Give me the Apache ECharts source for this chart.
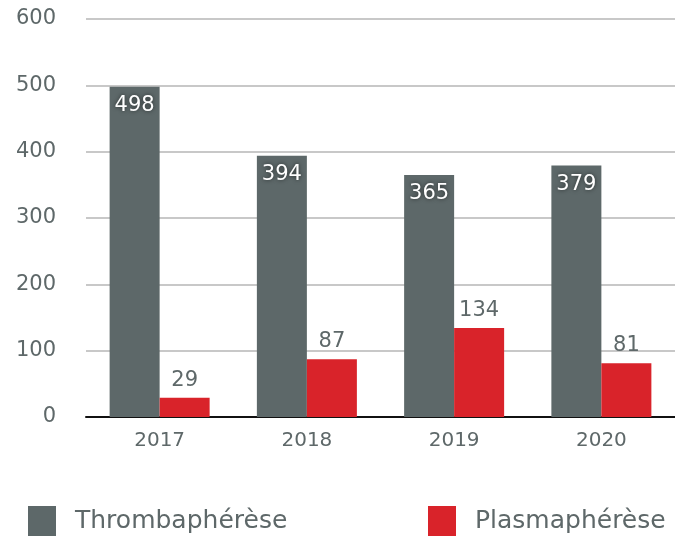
<!DOCTYPE html>
<html>
<head>
<meta charset="utf-8">
<script src="https://cdn.jsdelivr.net/npm/echarts@6/dist/echarts.min.js"></script>
<style>
  html, body { margin: 0; padding: 0; background: #fff; }
  #chart { width: 675px; height: 540px; }
</style>
</head>
<body>
<div id="chart"></div>
<script>
const years = ['2017', '2018', '2019', '2020'];
const thrombapherese = [498, 394, 365, 379];
const plasmapherese = [29, 87, 134, 81];
const yTicks = { min: 0, max: 600, interval: 100 };

const grey = '#5d6869';
const red = '#d9232a';
const textColor = '#5e6869';
const font = 'DejaVu Sans';

const chart = echarts.init(document.getElementById('chart'));

const legendText = { fontSize: 25, color: textColor, fontFamily: font, padding: [0, 0, 0, 14] };

chart.setOption({
    animation: false,
    textStyle: { fontFamily: font },
    grid: { left: 86, right: 0, top: 19, bottom: 123 },
    legend: [
        {
            left: 23, top: 501,
            itemWidth: 28, itemHeight: 30, icon: 'rect',
            data: ['Thrombaphérèse'],
            textStyle: legendText
        },
        {
            left: 423, top: 501,
            itemWidth: 28, itemHeight: 30, icon: 'rect',
            data: ['Plasmaphérèse'],
            textStyle: legendText
        }
    ],
    xAxis: {
        type: 'category',
        data: years,
        axisLine: { lineStyle: { color: '#111', width: 2 } },
        axisTick: { show: false },
        axisLabel: { color: textColor, fontSize: 20, margin: 14, fontFamily: font }
    },
    yAxis: {
        type: 'value',
        min: yTicks.min, max: yTicks.max, interval: yTicks.interval,
        axisLine: { show: false },
        axisTick: { show: false },
        axisLabel: { color: textColor, fontSize: 21, margin: 30, fontFamily: font },
        splitLine: { lineStyle: { color: '#c8c8c8', width: 2 } }
    },
    series: [
        {
            name: 'Thrombaphérèse',
            type: 'bar',
            data: thrombapherese,
            barWidth: 50,
            barGap: '0%',
            itemStyle: { color: grey },
            label: {
                show: true, position: 'insideTop', distance: 8,
                color: '#fff', fontSize: 21, fontFamily: font,
                textShadowColor: 'rgba(0,0,0,0.6)', textShadowBlur: 4
            }
        },
        {
            name: 'Plasmaphérèse',
            type: 'bar',
            data: plasmapherese,
            barWidth: 50,
            itemStyle: { color: red },
            label: {
                show: true, position: 'top', distance: 7,
                color: textColor, fontSize: 21, fontFamily: font
            }
        }
    ]
});
</script>
</body>
</html>
